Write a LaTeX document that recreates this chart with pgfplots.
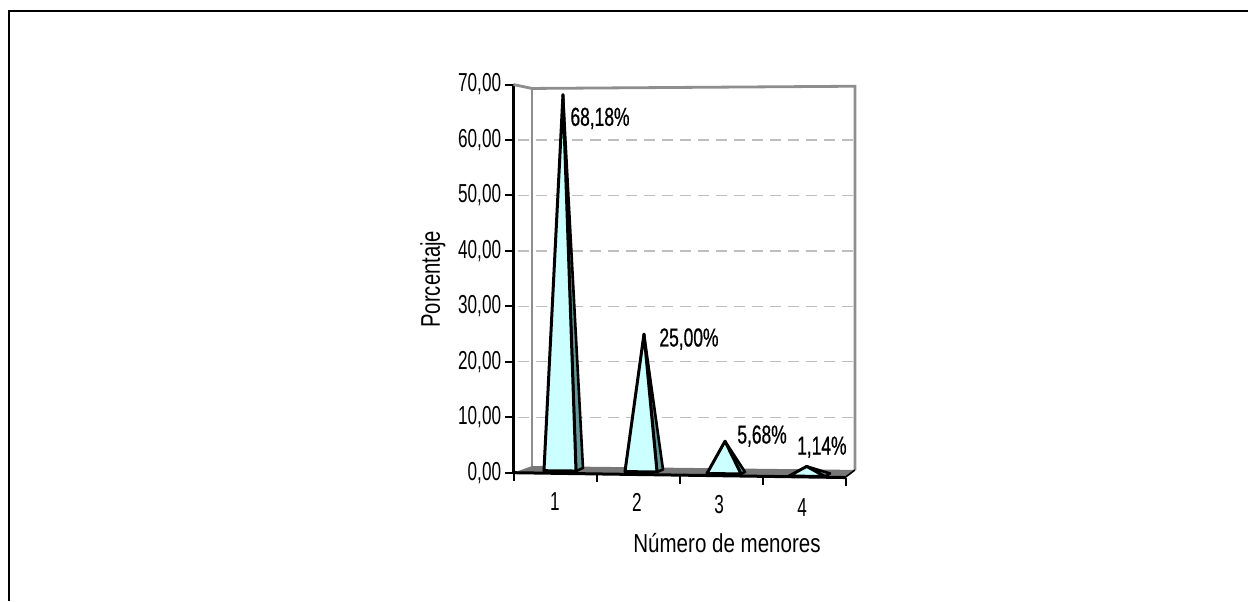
\documentclass[border=0pt]{standalone}
\usepackage{pgfplots}
\pgfplotsset{compat=1.18}
\usepackage{fontspec}
\setmainfont[FakeStretch=0.66]{Liberation Sans}
\newfontfamily\lab[FakeStretch=0.67,FakeBold=0.6]{Liberation Sans}
\newfontfamily\tit[FakeStretch=0.79]{Liberation Sans}
\newfontfamily\tity[FakeStretch=0.75]{Liberation Sans}
\definecolor{cono}{HTML}{CCFFFF}
\definecolor{lado}{HTML}{669999}
\definecolor{pared}{HTML}{8E8E8E}
\definecolor{piso}{HTML}{777777}
\definecolor{rejilla}{HTML}{BEBEBE}
\pgfplotsset{
  cara/.style={draw=black, line width=1.5pt, line join=round, fill=cono},
  costado/.style={draw=black, line width=1.3pt, line join=round, fill=lado},
  muesca/.style={black, line width=1pt, forget plot},
  guia/.style={rejilla, dash pattern=on 5.5pt off 3.5pt, line width=.6pt, forget plot},
}
\begin{document}
\begin{tikzpicture}[x=1pt,y=1pt]
  \useasboundingbox (0,0) rectangle (624,300.5);
  \draw[black, line width=1.3pt] (4.5,0) -- (4.5,295) -- (624,295);
  \begin{axis}[
    at={(256.75pt,64.15pt)}, anchor=south west,
    scale only axis, width=170.75pt, height=194.075pt,
    xmin=0.5, xmax=4.614, ymin=0, ymax=70,
    clip=false,
    axis x line=none, axis y line*=left,
    axis line style={black, line width=1.4pt, -},
    xtick=\empty, ytick={0,10,...,70},
    tick align=outside, major tick length=4.5pt,
    tick style={black, line width=1pt},
    yticklabel style={font=\fontsize{13}{14}\selectfont, inner sep=1.5pt},
    /pgf/number format/.cd, fixed, fixed zerofill, precision=2, use comma,
    assume math mode=true,
  ]
    % rejilla
    \addplot[guia] coordinates {(0.55,60)(4.614,60)};
    \addplot[guia] coordinates {(0.55,50)(4.614,50)};
    \addplot[guia] coordinates {(0.55,40)(4.614,40)};
    \addplot[guia] coordinates {(0.55,30)(4.614,30)};
    \addplot[guia] coordinates {(0.55,20)(4.614,20)};
    \addplot[guia] coordinates {(0.55,10)(4.614,10)};
    % paredes y piso
    \addplot[fill=piso, draw=none, forget plot] coordinates {(0.5,0)(0.723,1.2)(4.614,0.5)(4.494,-0.87)} -- cycle;
    \addplot[pared, line width=1.4pt, forget plot] coordinates {(0.5,70)(0.723,69.3)(4.614,69.7)(4.614,0.5)};
    \addplot[pared, line width=1.4pt, forget plot] coordinates {(0.723,69.3)(0.723,1.2)};
    \addplot[black, line width=.8pt, forget plot] coordinates {(4.494,-0.87)(4.614,0.5)};
    % eje x
    \addplot[black, line width=1.5pt, forget plot] coordinates {(0.5,0)(4.494,-0.87)};
    \addplot[muesca] coordinates {(0.5,0)(0.5,-1.5)};
    \addplot[muesca] coordinates {(1.5,-0.2)(1.5,-1.75)};
    \addplot[muesca] coordinates {(2.5,-0.45)(2.5,-2)};
    \addplot[muesca] coordinates {(3.5,-0.65)(3.5,-2.2)};
    \addplot[muesca] coordinates {(4.5,-0.87)(4.5,-2.45)};
    % conos
    \addplot[costado] coordinates {(1.096,68.18)(1.253,0.3)(1.337,0.85)} -- cycle;
    \addplot[cara] coordinates {(1.096,68.18)(0.867,0.36)(1.253,0.3)} -- cycle;
    \addplot[costado] coordinates {(2.072,25)(2.229,0.13)(2.301,0.58)} -- cycle;
    \addplot[cara] coordinates {(2.072,25)(1.843,0.2)(2.229,0.13)} -- cycle;
    \addplot[costado] coordinates {(3.048,5.68)(3.241,-0.23)(3.289,0.13)} -- cycle;
    \addplot[cara] coordinates {(3.048,5.68)(2.831,-0.14)(3.241,-0.23)} -- cycle;
    \addplot[costado] coordinates {(4.032,1.14)(4.253,-0.69)(4.313,-0.14)} -- cycle;
    \addplot[cara] coordinates {(4.032,1.14)(3.819,-0.6)(4.253,-0.69)} -- cycle;
    % textos
    \node[font=\lab\fontsize{13}{14}\selectfont] at (axis cs:1.542,63.9) {68,18\%};
    \node[font=\lab\fontsize{13}{14}\selectfont] at (axis cs:2.614,24.1) {25,00\%};
    \node[font=\lab\fontsize{13}{14}\selectfont] at (axis cs:3.494,6.6) {5,68\%};
    \node[font=\lab\fontsize{13}{14}\selectfont] at (axis cs:4.215,4.6) {1,14\%};
    \node[font=\fontsize{13}{14}\selectfont] at (axis cs:1.0,-5.2) {1};
    \node[font=\fontsize{13}{14}\selectfont] at (axis cs:1.988,-5.28) {2};
    \node[font=\fontsize{13}{14}\selectfont] at (axis cs:2.976,-5.8) {3};
    \node[font=\fontsize{13}{14}\selectfont] at (axis cs:3.976,-6.2) {4};
    \node[font=\tit\fontsize{13}{14}\selectfont] at (axis cs:3.072,-12.7) {Número de menores};
    \node[font=\tity\fontsize{13.5}{14}\selectfont, rotate=90] at (axis cs:-0.47,34.9) {Porcentaje};
  \end{axis}
\end{tikzpicture}
\end{document}
